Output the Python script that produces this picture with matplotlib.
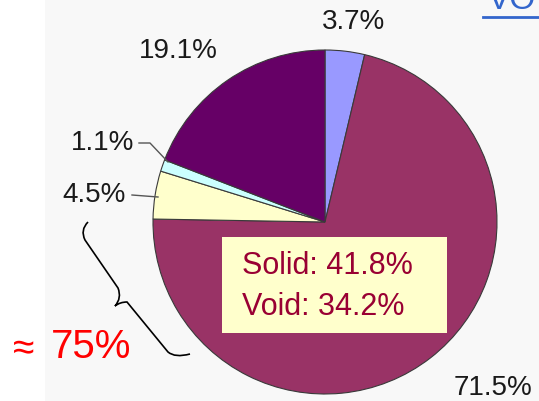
import matplotlib.pyplot as plt
from matplotlib.path import Path
from matplotlib.patches import PathPatch, Rectangle

plt.rcParams['font.family'] = ['Liberation Sans', 'DejaVu Sans']

# Anteile (Prozent), im Uhrzeigersinn ab 12 Uhr
shares = [3.7, 71.5, 4.5, 1.1, 19.1]
labels = ['3.7%', '71.5%', '4.5%', '1.1%', '19.1%']
colors = ['#9999ff', '#993366', '#ffffcc', '#ccffff', '#660066']
label_xy = [(354, 22), (493, 388), (94, 195), (103, 143), (178, 51)]

box_lines = ['Solid: 41.8%', 'Void: 34.2%']

fig = plt.figure(figsize=(5.39, 4.01), dpi=100)
ax = fig.add_axes([0, 0, 1, 1])

# Pixel-Koordinaten, y nach unten
ax.add_patch(Rectangle((45, 0), 494, 401, facecolor='#f8f8f8', edgecolor='none', zorder=0))

ax.pie(shares, colors=colors, startangle=-90, counterclock=True,
       center=(325, 222), radius=172,
       wedgeprops=dict(edgecolor='#3a3a3a', linewidth=0.8))

for lab, (x, y) in zip(labels, label_xy):
    ax.text(x, y, lab, ha='center', va='center', fontsize=20, color='#1a1a1a')

# Fuehrungslinien
ax.plot([139, 150, 168], [143, 143, 162], color='#555555', lw=1)
ax.plot([132, 158], [195, 197], color='#555555', lw=1)

# Kasten
ax.add_patch(Rectangle((222, 237), 225, 96, facecolor='#ffffcc', edgecolor='none', zorder=3))
ax.text(242, 266, box_lines[0], ha='left', va='center', fontsize=22, color='#990033', zorder=4)
ax.text(242, 307, box_lines[1], ha='left', va='center', fontsize=22, color='#990033', zorder=4)

# geschweifte Klammer
verts = [(88, 222), (80, 230), (85, 240), (118, 288), (122, 298), (115, 306),
         (120, 302), (127, 302), (168, 352), (175, 358), (190, 354)]
codes = [Path.MOVETO, Path.CURVE3, Path.CURVE3, Path.LINETO, Path.CURVE3, Path.CURVE3,
         Path.CURVE3, Path.CURVE3, Path.LINETO, Path.CURVE3, Path.CURVE3]
ax.add_patch(PathPatch(Path(verts, codes), facecolor='none', edgecolor='black', lw=1.2))

ax.text(13, 349, '\u2248', ha='left', va='center', fontsize=28, color='red')
ax.text(51, 347, '75%', ha='left', va='center', fontsize=29, color='red')

# angeschnittener Link oben rechts
ax.text(488, 9, 'VO', ha='left', va='baseline', fontsize=24, color='#3366cc')
ax.plot([483, 539], [16.5, 16.5], color='#3366cc', lw=2)

ax.set_xlim(0, 539)
ax.set_ylim(401, 0)
ax.set_aspect('auto')
ax.axis('off')

plt.savefig('out.png', dpi=100)
